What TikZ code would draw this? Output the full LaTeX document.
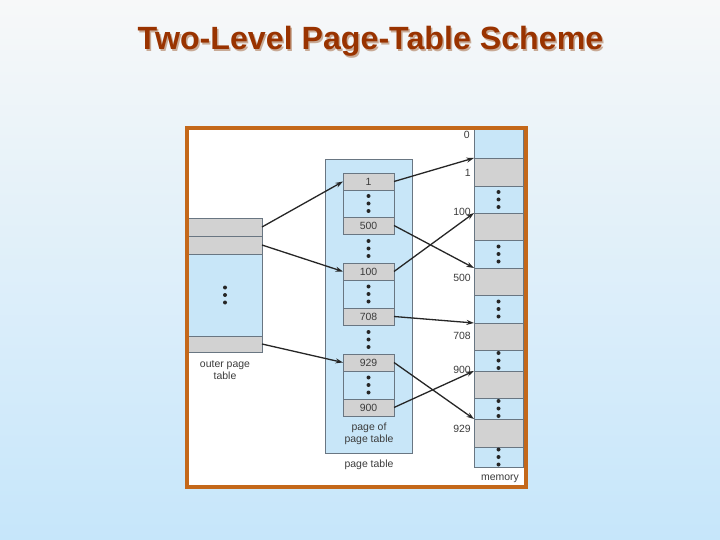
\documentclass[tikz,border=0pt]{standalone}
\usepackage{fontspec}
\setmainfont{Liberation Sans}
\usetikzlibrary{arrows.meta,positioning,calc}

\definecolor{cellblue}{RGB}{200,230,248}
\definecolor{cellgray}{RGB}{210,210,210}
\definecolor{edgegray}{RGB}{105,118,130}
\definecolor{framebrown}{RGB}{196,104,26}
\definecolor{titlebrown}{RGB}{153,51,0}
\definecolor{titleshade}{RGB}{200,170,150}
\definecolor{textgray}{RGB}{60,60,60}
\definecolor{bgtop}{RGB}{247,248,249}
\definecolor{bgbottom}{RGB}{198,230,250}

\tikzset{
  cell/.style={draw=edgegray, line width=0.8bp, inner sep=0pt, outer sep=0pt,
    minimum width=51bp, anchor=north west, text=textgray,
    font=\fontsize{10.5}{12}\selectfont},
  graycell/.style={cell, fill=cellgray},
  bluecell/.style={cell, fill=cellblue},
  memcell/.style={minimum width=49bp},
  outercell/.style={minimum width=74bp},
  ptr/.style={-{Stealth[length=7.5bp,width=5bp]}, line width=1.3bp, draw=black!85},
  caption/.style={font=\fontsize{10.5}{12.5}\selectfont, text=textgray, align=center},
  addr/.style={font=\fontsize{10.5}{12}\selectfont, text=textgray, anchor=east, inner sep=0pt},
  title/.style={font=\fontsize{32.3}{38}\selectfont\bfseries, anchor=base, inner sep=0pt},
}
\newcommand{\stackdots}[1]{\foreach \k in {-7.5,0,7.5} \fill[black!85] ([yshift=\k bp]#1) circle (2bp);}

\begin{document}
\begin{tikzpicture}[x=1bp,y=-1bp]

% Slide background and title
\useasboundingbox (0,0) rectangle (720,540);
\shade[top color=bgtop, bottom color=bgbottom] (0,0) rectangle (720,540);
\node[title, text=titleshade] (shadow) at (372,51.5) {Two-Level Page-Table Scheme};
\node[title, text=titlebrown] (title) at (370.5,50) {Two-Level Page-Table Scheme};

% White panel
\fill[white] (187,128) rectangle (525.5,486.5);

% Outer page table
\node[graycell, outercell, minimum height=18bp] (o1) at (188,218) {};
\node[graycell, outercell, minimum height=18bp, below=0pt of o1] (o2) {};
\node[bluecell, outercell, minimum height=82bp, below=0pt of o2] (o3) {};
\node[graycell, outercell, minimum height=16bp, below=0pt of o3] (o4) {};
\stackdots{o3.center}
\node[caption] (outerlbl) at (225,370) {outer page\\table};

% Page table with its pages
\node[draw=edgegray, line width=0.8bp, fill=cellblue, minimum width=87bp,
  minimum height=294bp, anchor=north west, inner sep=0pt] (pt) at (325,159) {};
\node[graycell, minimum height=17bp] (p1) at (343,173) {1};
\node[bluecell, minimum height=27bp, below=0pt of p1] (p2) {};
\node[graycell, minimum height=17bp, below=0pt of p2] (p3) {500};
\node[graycell, minimum height=17bp] (p4) at (343,263) {100};
\node[bluecell, minimum height=28bp, below=0pt of p4] (p5) {};
\node[graycell, minimum height=17bp, below=0pt of p5] (p6) {708};
\node[graycell, minimum height=17bp] (p7) at (343,354) {929};
\node[bluecell, minimum height=28bp, below=0pt of p7] (p8) {};
\node[graycell, minimum height=17bp, below=0pt of p8] (p9) {900};
\stackdots{p2.center}
\stackdots{p5.center}
\stackdots{p8.center}
\stackdots{$(p3.south)!0.5!(p4.north)$}
\stackdots{$(p6.south)!0.5!(p7.north)$}
\node[caption] (pagelbl) at (369,434) {page of\\page table};
\node[caption] (ptlbl) at (369,465) {page table};

% Memory
\node[bluecell, memcell, minimum height=29bp] (m0) at (474,129) {};
\node[graycell, memcell, minimum height=28bp, below=0pt of m0] (m1) {};
\node[bluecell, memcell, minimum height=27bp, below=0pt of m1] (m2) {};
\node[graycell, memcell, minimum height=27bp, below=0pt of m2] (m3) {};
\node[bluecell, memcell, minimum height=28bp, below=0pt of m3] (m4) {};
\node[graycell, memcell, minimum height=27bp, below=0pt of m4] (m5) {};
\node[bluecell, memcell, minimum height=28bp, below=0pt of m5] (m6) {};
\node[graycell, memcell, minimum height=27bp, below=0pt of m6] (m7) {};
\node[bluecell, memcell, minimum height=21bp, below=0pt of m7] (m8) {};
\node[graycell, memcell, minimum height=27bp, below=0pt of m8] (m9) {};
\node[bluecell, memcell, minimum height=21bp, below=0pt of m9] (m10) {};
\node[graycell, memcell, minimum height=28bp, below=0pt of m10] (m11) {};
\node[bluecell, memcell, minimum height=20bp, below=0pt of m11] (m12) {};
\stackdots{m2.center}
\stackdots{m4.center}
\stackdots{m6.center}
\stackdots{m8.center}
\stackdots{m10.center}
\stackdots{m12.center}
\node[caption] (memlbl) at (500,479) {memory};

% Frame addresses
\node[addr] (a0) at (470,135) {0};
\node[addr] (a1) at (471,173) {1};
\node[addr] (a100) at (471,212) {100};
\node[addr] (a500) at (471,278) {500};
\node[addr] (a708) at (471,336) {708};
\node[addr] (a900) at (471,370) {900};
\node[addr] (a929) at (471,429) {929};

% Pointers
\draw[ptr] (o1.east) -- (p1.west);
\draw[ptr] (o2.east) -- (p4.west);
\draw[ptr] (o4.east) -- (p7.west);
\draw[ptr] (p1.east) -- (m1.north west);
\draw[ptr] (p3.east) -- (m5.north west);
\draw[ptr] (p4.east) -- (m3.north west);
\draw[ptr] (p6.east) -- (m7.north west);
\draw[ptr] (p7.east) -- (m11.north west);
\draw[ptr] (p9.east) -- (m9.north west);

% Orange border
\draw[framebrown, line width=4bp] (187,128) rectangle (525.5,486.5);

\end{tikzpicture}
\end{document}
